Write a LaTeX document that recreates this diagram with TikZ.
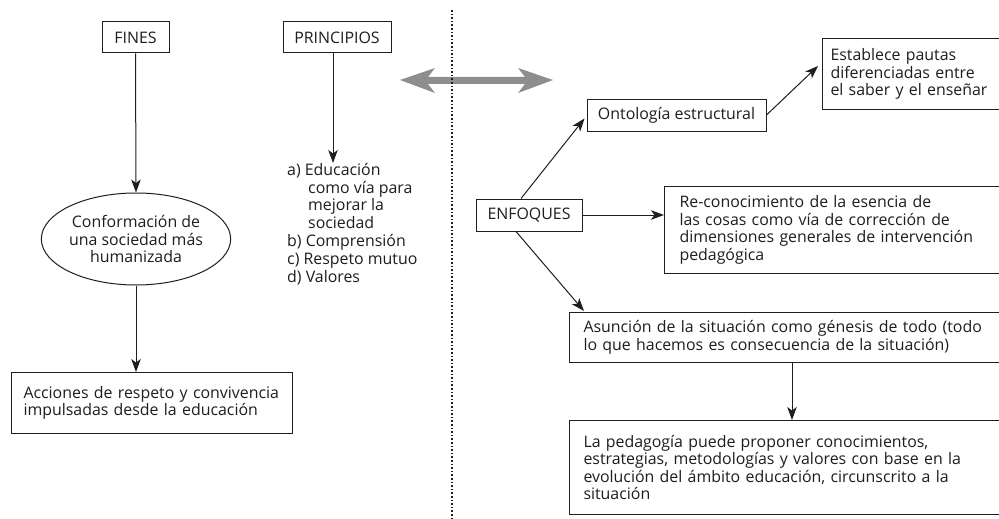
\documentclass[tikz,border=0pt]{standalone}
\usepackage{fontspec}
\setmainfont{Open Sans}
\usetikzlibrary{shapes.geometric,arrows.meta,calc}
\definecolor{ink}{HTML}{1E1E1E}
\definecolor{dblarrow}{HTML}{8E8E8E}
\tikzset{
  boxnode/.style={draw=ink, line width=1pt, text=ink, inner sep=0pt, font=\fontsize{15.9}{17.6}\selectfont},
  txtnode/.style={text=ink, inner sep=0pt, font=\fontsize{15.9}{17.8}\selectfont, align=left},
  conn/.style={draw=ink, line width=1pt, -{Stealth[length=13pt,width=9.5pt,inset=3.5pt]}},
}
\begin{document}
\begin{tikzpicture}[x=1pt,y=-1pt]
\useasboundingbox (0,0) rectangle (999,519);
\clip (0,0) rectangle (999,519);
\fill[white] (0,0) rectangle (999,519);

% left part
\node[boxnode, minimum width=67pt, minimum height=31pt] (fines) at (135.5,37.5) {FINES};
\node[boxnode, minimum width=108pt, minimum height=31pt] (princ) at (337,37.5) {PRINCIPIOS};
\node[boxnode, ellipse, minimum width=188pt, minimum height=92pt, align=center] (elip) at (136,239)
  {Conformación de\\una sociedad más\\humanizada};
\node[boxnode, anchor=north west, minimum height=61pt, text width=257pt, inner xsep=12pt, align=left] (acc) at (11,372)
  {Acciones de respeto y convivencia\\impulsadas desde la educación};
\node[txtnode, anchor=north west] (list) at (287,163)
  {a) Educación\\\hspace*{21pt}como vía para\\\hspace*{21pt}mejorar la\\\hspace*{21pt}sociedad\\b) Comprensión\\c) Respeto mutuo\\d) Valores};

\draw[conn] (fines.south) -- (elip.north);
\draw[conn] (elip.south) -- (elip.south |- acc.north);
\coordinate (pa) at ($(princ.south)+(-4,0)$);
\draw[conn] (pa) -- (pa |- list.north);

% double arrow
\fill[dblarrow] (400,80) -- (435,68) -- (428,77) -- (525,77) -- (518,68) -- (553,80)
  -- (518,93) -- (525,84) -- (428,84) -- (435,93) -- cycle;

% divider
\draw[ink, line width=1.6pt, dash pattern=on 1.6pt off 2pt] (452,10) -- (452,519);

% right part
\node[boxnode, minimum width=106pt, minimum height=32pt] (enf) at (529,215) {ENFOQUES};
\node[boxnode, minimum width=179pt, minimum height=32pt] (onto) at (676.5,115) {Ontología estructural};
\node[boxnode, anchor=north west, minimum height=71pt, text width=300pt, inner xsep=8pt, align=left] (est) at (822,38)
  {Establece pautas\\diferenciadas entre\\el saber y el enseñar};
\node[boxnode, anchor=north west, minimum height=87pt, text width=380pt, inner xsep=15pt, align=left] (reco) at (664,186)
  {Re-conocimiento de la esencia de\\las cosas como vía de corrección de\\dimensiones generales de intervención\\pedagógica};
\node[boxnode, anchor=north west, minimum height=50pt, text width=480pt, inner xsep=14pt, align=left] (asun) at (569,312)
  {Asunción de la situación como génesis de todo (todo\\lo que hacemos es consecuencia de la situación)};
\node[boxnode, anchor=north west, minimum height=94pt, text width=480pt, inner xsep=14pt, align=left] (ped) at (569,420)
  {La pedagogía puede proponer conocimientos,\\estrategias, metodologías y valores con base en la\\evolución del ámbito educación, circunscrito a la\\situación};

\draw[conn] ($(enf.north)+(-8,0)$) -- ($(onto.south west)+(-2,-13)$);
\draw[conn] (onto.east) -- ($(est.west)+(-4,-8)$);
\draw[conn] (enf.east) -- (enf.east -| reco.west);
\draw[conn] ($(enf.south)+(-13,0)$) -- ($(asun.north west)+(15,-1)$);
\draw[conn] ($(asun.south west)+(223,0)$) -- ($(ped.north west)+(223,0)$);
\end{tikzpicture}
\end{document}
